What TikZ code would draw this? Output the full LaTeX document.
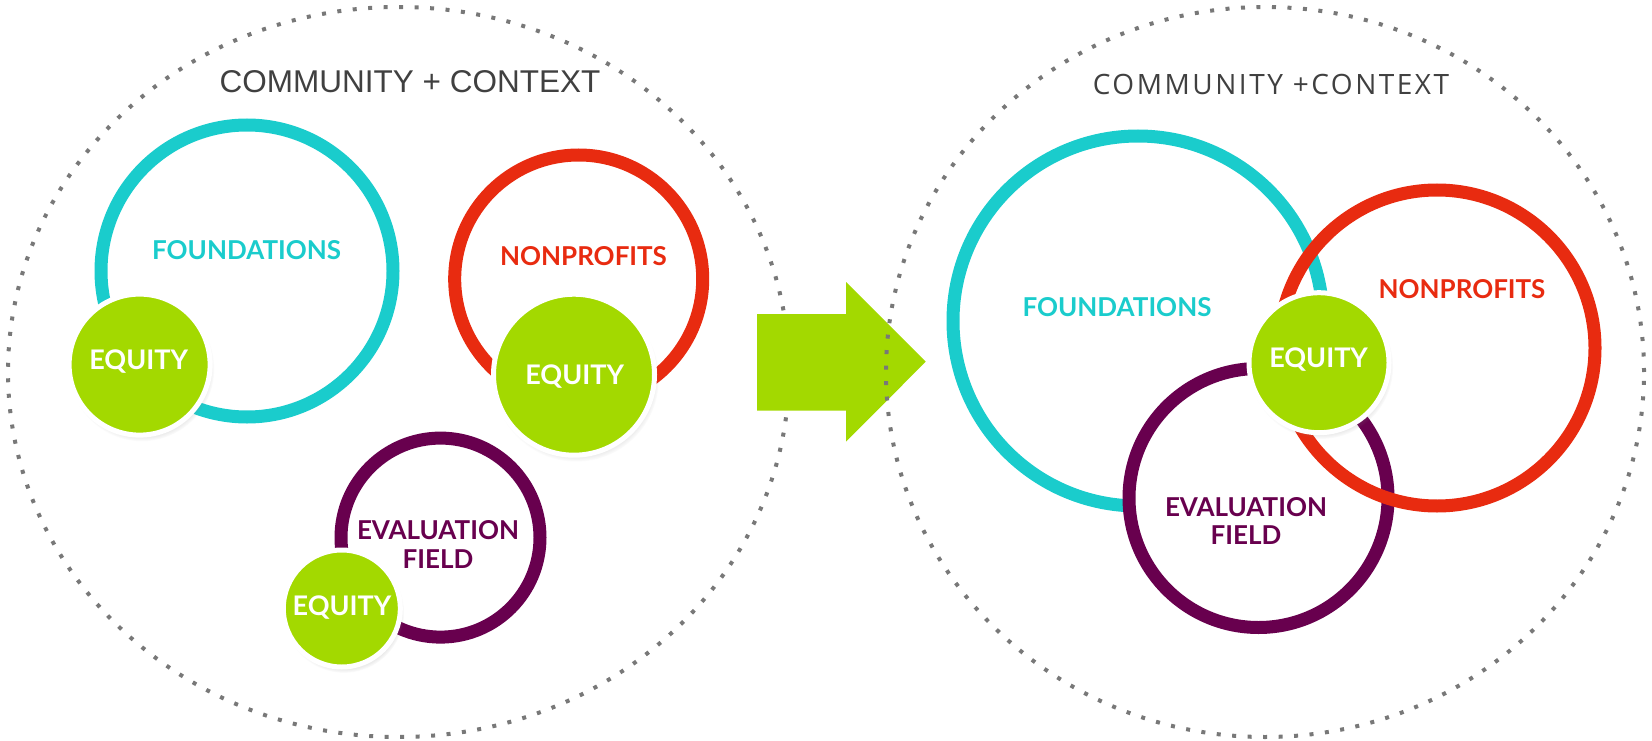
\documentclass[tikz,border=0pt]{standalone}
\usepackage{fontspec}
\setmainfont{Liberation Sans}
\newfontfamily\labfont{Lato}
\newfontfamily\ttlfont{Open Sans}[LetterSpace=9]
\usetikzlibrary{shadows}
\definecolor{cyanC}{RGB}{26,204,204}
\definecolor{redC}{RGB}{232,43,16}
\definecolor{purpC}{RGB}{104,0,78}
\definecolor{greenC}{RGB}{163,217,0}
\definecolor{dotC}{RGB}{120,120,120}
\definecolor{titleC}{RGB}{64,64,64}
\tikzset{
  dotring/.style={draw=dotC, line width=4pt, dash pattern=on 4pt off 11.5pt},
  ring/.style={line width=13pt},
  equitydisc/.style={circle, fill=greenC, draw=white, line width=5pt, inner sep=0pt,
     circular drop shadow={shadow xshift=2pt, shadow yshift=-4pt, shadow scale=1.03, opacity=0.35}},
  lbl/.style={font=\labfont\bfseries\fontsize{26}{28}\selectfont, text height=18.7pt, text depth=0pt, inner sep=0pt},
  eqlbl/.style={lbl, text=white, font=\labfont\bfseries\fontsize{27}{28}\selectfont, text height=19.4pt},
  ttlA/.style={font=\fontsize{31.5}{34}\selectfont, text=titleC, text height=22.6pt, text depth=0pt, inner sep=0pt},
  ttlB/.style={font=\ttlfont\fontsize{28}{30}\selectfont, text=titleC, text height=20pt, text depth=0pt, inner sep=0pt},
}
\begin{document}
\begin{tikzpicture}[x=1pt,y=-1pt]
\useasboundingbox (0,0) rectangle (1652,741);
% ---------- left ----------
\draw[dotring] (398.5,372) ellipse [x radius=390.5pt, y radius=365pt];
\node[ttlA] (tA) at (410,81.7) {COMMUNITY + CONTEXT};
\draw[ring, cyanC] (247,271) circle [radius=146pt];
\draw[ring, redC] (578.7,279) circle [radius=124pt];
\draw[ring, purpC] (440.5,537.6) circle [radius=99.5pt];
\node[equitydisc, minimum size=141pt] (eqA) at (139.6,364.6) {};
\node[equitydisc, minimum size=161pt] (eqB) at (574,374.7) {};
\node[equitydisc, minimum size=117pt] (eqC) at (341.8,608.5) {};
\node[lbl, text=cyanC] (foA) at (246.6,250.5) {FOUNDATIONS};
\node[lbl, text=redC] (npA) at (583.5,256) {NONPROFITS};
\node[lbl, text=purpC] (evA) at (438,530.5) {EVALUATION};
\node[lbl, text=purpC] (fiA) at (438,559.5) {FIELD};
\node[eqlbl] (eqtA) at (138.7,360) {EQUITY};
\node[eqlbl] (eqtB) at (574.7,375) {EQUITY};
\node[eqlbl] (eqtC) at (342,606) {EQUITY};
% ---------- arrow ----------
\fill[greenC] (757,314) -- (846,314) -- (846,282) -- (925.7,361.7) -- (846,441.7) -- (846,410.7) -- (757,410.7) -- cycle;
% ---------- right ----------
\draw[dotring] (1265,372) ellipse [x radius=379pt, y radius=365pt];
\node[ttlB] (tB) at (1271,85) {COMMUNITY +CONTEXT};
\draw[ring, cyanC] (1138,321) circle [radius=185pt];
\draw[ring, purpC, fill=white] (1258.5,498) circle [radius=129.5pt];
\draw[ring, redC] (1437,348) circle [radius=158pt];
\node[equitydisc, minimum size=140pt] (eqD) at (1319,362.7) {};
\node[lbl, text=cyanC] (foB) at (1117,307) {FOUNDATIONS};
\node[lbl, text=redC] (npB) at (1462,289) {NONPROFITS};
\node[lbl, text=purpC] (evB) at (1246,507) {EVALUATION};
\node[lbl, text=purpC] (fiB) at (1246,535.5) {FIELD};
\node[eqlbl] (eqtD) at (1318.6,357.7) {EQUITY};
\end{tikzpicture}
\end{document}
